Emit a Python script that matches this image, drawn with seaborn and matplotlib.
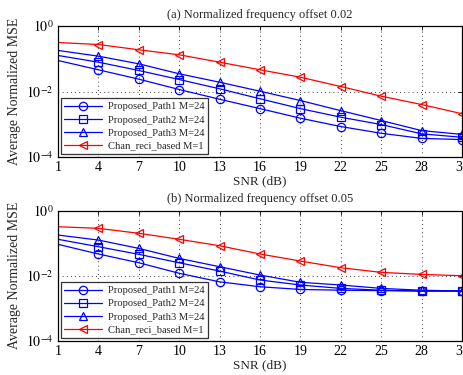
import numpy as np
import pandas as pd
import seaborn as sns
import matplotlib
matplotlib.use("Agg")
import matplotlib.pyplot as plt

# SNR points (dB)
snr = [1, 4, 7, 10, 13, 16, 19, 22, 25, 28, 31]

# (a) normalized frequency offset 0.02
a_path1 = [0.0885, 0.046, 0.0238, 0.0115, 0.0058, 0.0030, 0.00153, 0.00085, 0.00053, 0.00037, 0.00034]
a_path2 = [0.126, 0.0785, 0.0438, 0.0232, 0.0121, 0.0060, 0.0030, 0.00164, 0.00098, 0.00051, 0.00040]
a_path3 = [0.179, 0.120, 0.070, 0.0347, 0.0192, 0.0102, 0.0053, 0.0026, 0.0013, 0.00064, 0.00049]
a_chan = [0.313, 0.272, 0.188, 0.132, 0.0785, 0.046, 0.0273, 0.0142, 0.0072, 0.0040, 0.00209]

# (b) normalized frequency offset 0.05
b_path1 = [0.0918, 0.0464, 0.025, 0.0119, 0.0065, 0.0046, 0.0038, 0.0036, 0.0035, 0.0034, 0.0034]
b_path2 = [0.131, 0.0776, 0.0453, 0.025, 0.0139, 0.0074, 0.0052, 0.0041, 0.0036, 0.0034, 0.0034]
b_path3 = [0.177, 0.124, 0.069, 0.034, 0.0189, 0.0105, 0.0063, 0.0052, 0.0041, 0.0036, 0.0034]
b_chan = [0.318, 0.284, 0.200, 0.131, 0.083, 0.0464, 0.0282, 0.0176, 0.0127, 0.0110, 0.0100]

labels = ["Proposed_Path1 M=24", "Proposed_Path2 M=24",
          "Proposed_Path3 M=24", "Chan_reci_based M=1"]
markers = ["o", "s", "^", "<"]
colors = ["#0000ff", "#0000ff", "#0000ff", "#ff0000"]
titles = ["(a) Normalized frequency offset 0.02",
          "(b) Normalized frequency offset 0.05"]

sns.set_style("white")
plt.rcParams["font.family"] = ["Liberation Serif", "DejaVu Serif"]
plt.rcParams["mathtext.fontset"] = "stix"

fig = plt.figure(figsize=(4.64, 3.75), dpi=100)
W, H = 464, 375
ax_a = fig.add_axes([58 / W, 1 - 157 / H, 404 / W, 131 / H])
ax_b = fig.add_axes([58 / W, 1 - 341 / H, 404 / W, 130.5 / H])

panels = [(ax_a, [a_path1, a_path2, a_path3, a_chan]),
          (ax_b, [b_path1, b_path2, b_path3, b_chan])]

for (ax, series), title in zip(panels, titles):
    for vals, lab, mk, col in zip(series, labels, markers, colors):
        df = pd.DataFrame({"snr": snr, "mse": vals})
        sns.lineplot(data=df, x="snr", y="mse", ax=ax, color=col, marker=mk,
                     markersize=6, markerfacecolor="none", markeredgecolor=col,
                     markeredgewidth=0.9, linewidth=0.9, label=lab,
                     markevery=list(range(1, len(snr))))
    ax.set_yscale("log")
    ax.set_xlim(1, 31)
    ax.set_ylim(1e-4, 1)
    ax.set_xticks(snr)
    ax.set_yticks([1e-4, 1e-2, 1])
    ax.set_yticklabels([r"$10^{-4}$", r"$10^{-2}$", r"$10^{0}$"])
    ax.yaxis.set_minor_locator(matplotlib.ticker.NullLocator())
    ax.tick_params(direction="in", top=True, right=True, labelsize=10,
                   length=3, width=0.6, colors="black", pad=3)
    ax.grid(True, which="major", linestyle=(0, (1, 4)), color="black", linewidth=0.6)
    for s in ax.spines.values():
        s.set_linewidth(0.9)
        s.set_color("black")
    ax.set_title(title, fontsize=9, pad=6)
    ax.set_xlabel("SNR (dB)", fontsize=9.5, labelpad=1)
    ax.set_ylabel("Average Normalized MSE", fontsize=10, labelpad=4)
    leg = ax.legend(loc="lower left", fontsize=7.6, handlelength=3.6,
                    frameon=True, fancybox=False, edgecolor="black",
                    borderaxespad=0.25, borderpad=0.35, labelspacing=0.35,
                    handletextpad=0.5)
    leg.get_frame().set_linewidth(0.9)

fig.savefig("out.png", dpi=100)
